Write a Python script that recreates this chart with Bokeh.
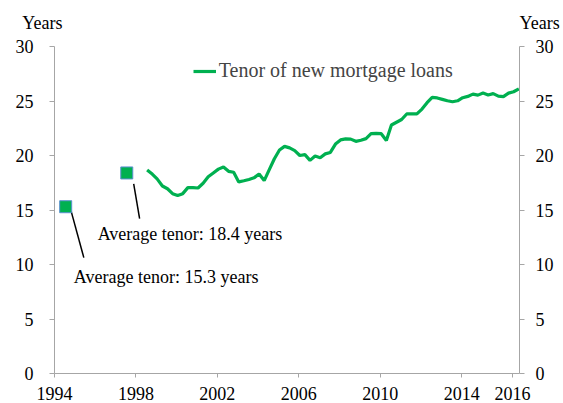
from bokeh.plotting import figure
from bokeh.layouts import column
from bokeh.models import LinearAxis, FixedTicker, Legend, LegendItem, Range1d
from bokeh.core.properties import value
from bokeh.embed import file_html
from bokeh.resources import INLINE

# ---- data ----
years = [1998.55, 1998.80, 1999.04, 1999.30, 1999.55, 1999.80, 2000.05, 2000.30,
         2000.55, 2000.80, 2001.05, 2001.30, 2001.55, 2001.80, 2002.05, 2002.30,
         2002.55, 2002.80, 2003.05, 2003.30, 2003.55, 2003.80, 2004.05, 2004.30,
         2004.55, 2004.80, 2005.05, 2005.30, 2005.55, 2005.80, 2006.05, 2006.30,
         2006.55, 2006.80, 2007.05, 2007.30, 2007.55, 2007.80, 2008.05, 2008.30,
         2008.55, 2008.80, 2009.05, 2009.30, 2009.55, 2009.80, 2010.05, 2010.30,
         2010.55, 2010.80, 2011.05, 2011.30, 2011.55, 2011.80, 2012.05, 2012.30,
         2012.55, 2012.80, 2013.05, 2013.30, 2013.55, 2013.80, 2014.05, 2014.30,
         2014.55, 2014.80, 2015.05, 2015.30, 2015.55, 2015.80, 2016.05, 2016.30,
         2016.55, 2016.81]
tenor = [18.68, 18.30, 17.86, 17.20, 16.95, 16.50, 16.33, 16.50,
         17.05, 17.05, 17.02, 17.45, 18.05, 18.40, 18.75, 18.95,
         18.55, 18.46, 17.58, 17.68, 17.80, 17.95, 18.30, 17.70,
         18.70, 19.70, 20.50, 20.84, 20.70, 20.45, 20.00, 20.08,
         19.55, 19.95, 19.80, 20.15, 20.28, 21.05, 21.43, 21.52,
         21.50, 21.30, 21.40, 21.55, 22.00, 22.03, 22.00, 21.38,
         22.80, 23.05, 23.30, 23.81, 23.82, 23.81, 24.26, 24.85,
         25.33, 25.28, 25.15, 25.02, 24.93, 25.02, 25.30, 25.42,
         25.63, 25.54, 25.73, 25.55, 25.68, 25.45, 25.40, 25.72,
         25.85, 26.12]
series_name = "Tenor of new mortgage loans"

avg_years = [1994.55, 1997.55]
avg_tenor = [15.3, 18.4]
avg_labels = ["Average tenor: 15.3 years", "Average tenor: 18.4 years"]
label_x = [1994.95, 1996.12]
label_y = [8.85, 12.83]
leader_x0 = [1994.82, 1997.89]
leader_y0 = [14.87, 17.40]
leader_x1 = [1995.44, 1998.18]
leader_y1 = [10.63, 14.20]

x_ticks = [1994, 1998, 2002, 2006, 2010, 2014, 2016.5]
x_tick_labels = {2016.5: "2016"}
y_ticks = [0, 5, 10, 15, 20, 25, 30]
unit_label = "Years"

FONT = "Liberation Serif"
GREEN = "#00b050"
AXIS = "#a6a6a6"

# ---- header strip: unit labels drawn as tick labels of two bare axes ----
UNIT_POS = 11.5
hdr = figure(width=563, height=34, output_backend="svg", toolbar_location=None,
             x_range=Range1d(0, 1), y_range=Range1d(0, 34),
             x_axis_location=None, y_axis_location="left",
             min_border_left=54, min_border_right=44, min_border_top=0,
             min_border_bottom=0)
hdr.outline_line_color = None
hdr.xgrid.visible = False
hdr.ygrid.visible = False
hdr.add_layout(LinearAxis(), "right")
for ax in hdr.yaxis:
    ax.ticker = FixedTicker(ticks=[UNIT_POS])
    ax.major_label_overrides = {UNIT_POS: unit_label}
    ax.axis_line_color = None
    ax.major_tick_line_color = None
    ax.minor_tick_line_color = None
    ax.major_tick_out = 0
    ax.major_tick_in = 0
    ax.major_label_text_font = FONT
    ax.major_label_text_font_size = "18px"
    ax.major_label_text_color = "black"
hdr.yaxis[0].major_label_standoff = -8
hdr.yaxis[1].major_label_standoff = 0

# ---- main chart ----
p = figure(width=563, height=369, output_backend="svg", toolbar_location=None,
           x_range=Range1d(1994, 2016.84), y_range=Range1d(0, 30),
           min_border_left=54, min_border_right=44, min_border_top=12,
           min_border_bottom=30)
p.outline_line_color = None
p.xgrid.visible = False
p.ygrid.visible = False
p.background_fill_color = "white"
p.border_fill_color = "white"

p.add_layout(LinearAxis(), "right")

for ax in p.xaxis:
    ax.ticker = FixedTicker(ticks=x_ticks)
    ax.major_label_overrides = x_tick_labels
    ax.major_tick_out = 4
    ax.major_label_standoff = 9
for ax in p.yaxis:
    ax.ticker = FixedTicker(ticks=y_ticks)
    ax.major_tick_out = 5
p.yaxis[0].major_label_standoff = 16
p.yaxis[1].major_label_standoff = 11

for ax in list(p.xaxis) + list(p.yaxis):
    ax.axis_line_color = AXIS
    ax.axis_line_width = 1
    ax.major_tick_line_color = AXIS
    ax.major_tick_in = 0
    ax.minor_tick_line_color = None
    ax.major_label_text_font = FONT
    ax.major_label_text_font_size = "18px"
    ax.major_label_text_color = "black"

r = p.line(years, tenor, line_color=GREEN, line_width=3.2)

p.segment(x0=leader_x0, y0=leader_y0, x1=leader_x1, y1=leader_y1,
          line_color="black", line_width=1.5)
p.scatter(avg_years, avg_tenor, marker="square", size=12,
          fill_color=GREEN, line_color="#5b8fd0", line_width=1)
p.text(x=label_x, y=label_y, text=avg_labels, text_font=value(FONT),
       text_font_size="18px", text_color="black", text_baseline="alphabetic",
       text_align="left")

legend = Legend(items=[LegendItem(label=series_name, renderers=[r])],
                location=(138.7, 291), border_line_color=None,
                background_fill_alpha=0, padding=0, margin=0,
                glyph_width=23, glyph_height=20, label_height=20,
                label_standoff=3, label_text_font=FONT,
                label_text_font_size="20px")
p.add_layout(legend)

layout = column(hdr, p, spacing=0)
open("out.html", "w").write(file_html(layout, INLINE))
